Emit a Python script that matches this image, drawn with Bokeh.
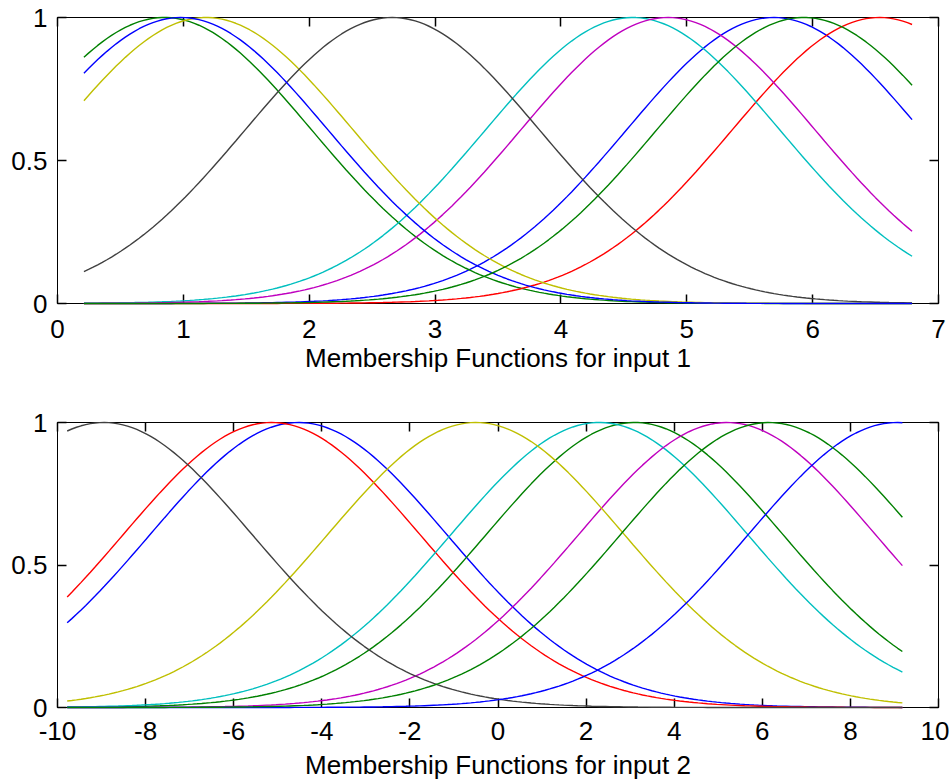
import numpy as np
from bokeh.plotting import figure
from bokeh.models import LinearAxis, FixedTicker, Range1d
from bokeh.layouts import column
from bokeh.embed import file_html
from bokeh.resources import INLINE

# ---------------- data (Gaussian membership functions) -------------
# input 1
in1_lo, in1_hi = 0.21, 6.79
in1_centers = [5.69, 0.85, 6.53, 4.57, 4.85, 1.18, 2.66, 0.98, 5.93]
in1_sigmas = [1.17, 1.17, 1.17, 1.17, 1.17, 1.17, 1.17, 1.17, 1.17]
in1_xticks = [0, 1, 2, 3, 4, 5, 6, 7]
in1_xtick_labels = ["0", "1", "2", "3", "4", "5", "6", "7"]
in1_label = "Membership Functions for input 1"

# input 2
in2_lo, in2_hi = -9.78, 9.18
in2_centers = [-4.53, 3.1, -5.14, 2.3, 5.2, -0.5, -8.95, 9.05, 6.15]
in2_sigmas = [3.37, 3.37, 3.37, 3.37, 3.37, 3.37, 3.37, 3.37, 3.37]
in2_xticks = [-10, -8, -6, -4, -2, 0, 2, 4, 6, 8, 10]
in2_xtick_labels = ["-10", "-8", "-6", "-4", "-2", "0", "2", "4", "6", "8", "10"]
in2_label = "Membership Functions for input 2"

yticks = [0, 0.5, 1]
ytick_labels = ["0", "0.5", "1"]

# MATLAB colour order (b, g, r, c, m, y, k, b, g)
mf_colors = ["#0000ff", "#008000", "#ff0000", "#00bfbf", "#bf00bf",
             "#bfbf00", "#404040", "#0000ff", "#008000"]

FONT = "Liberation Sans"
N_SAMPLES = 181


def make_fig(lo, hi, centers, sigmas, xticks, xlabels, xlabel, height, b_top, b_bottom,
             tick_standoff, label_standoff):
    p = figure(width=949, height=height, output_backend="svg", toolbar_location=None,
               x_range=Range1d(xticks[0], xticks[-1]), y_range=Range1d(0, 1),
               min_border_left=57, min_border_right=11,
               min_border_top=b_top, min_border_bottom=b_bottom,
               background_fill_color="white", border_fill_color="white")
    p.grid.visible = False
    p.outline_line_color = "black"
    p.outline_line_width = 1

    xs = np.linspace(lo, hi, N_SAMPLES)
    for c, s, col in zip(centers, sigmas, mf_colors):
        ys = np.exp(-((xs - c) ** 2) / (2.0 * s * s))
        p.line(xs, ys, line_color=col, line_width=1.4, level="overlay")

    xover = {t: l for t, l in zip(xticks, xlabels)}
    yover = {t: l for t, l in zip(yticks, ytick_labels)}

    for ax in p.xaxis:
        ax.ticker = FixedTicker(ticks=xticks)
        ax.major_label_overrides = xover
        ax.axis_label = xlabel
    for ax in p.yaxis:
        ax.ticker = FixedTicker(ticks=yticks)
        ax.major_label_overrides = yover

    top = LinearAxis(ticker=FixedTicker(ticks=xticks))
    right = LinearAxis(ticker=FixedTicker(ticks=yticks))
    p.add_layout(top, "above")
    p.add_layout(right, "right")

    for ax in p.xaxis + p.yaxis:
        ax.major_tick_in = 9
        ax.major_tick_out = 0
        ax.major_tick_line_width = 1.5
        ax.minor_tick_line_color = None
        ax.axis_line_color = "black"
        ax.major_tick_line_color = "black"
        ax.major_label_text_font = FONT
        ax.major_label_text_font_size = "26px"
        ax.major_label_text_color = "black"
        ax.axis_label_text_font = FONT
        ax.axis_label_text_font_size = "26px"
        ax.axis_label_text_font_style = "normal"
        ax.axis_label_text_color = "black"
    for ax in p.xaxis:
        ax.major_label_standoff = tick_standoff
        ax.axis_label_standoff = label_standoff
    for ax in p.yaxis:
        ax.major_label_standoff = 10
    for ax in (top, right):
        ax.major_label_text_font_size = "0px"
        ax.major_label_text_color = None
        ax.major_label_standoff = 0
    return p


p1 = make_fig(in1_lo, in1_hi, in1_centers, in1_sigmas, in1_xticks, in1_xtick_labels,
              in1_label, 385, 17, 82, 16, 2)
p2 = make_fig(in2_lo, in2_hi, in2_centers, in2_sigmas, in2_xticks, in2_xtick_labels,
              in2_label, 397, 37, 74, 14, 7)

layout = column(p1, p2, spacing=0)
open("out.html", "w").write(file_html(layout, INLINE))
